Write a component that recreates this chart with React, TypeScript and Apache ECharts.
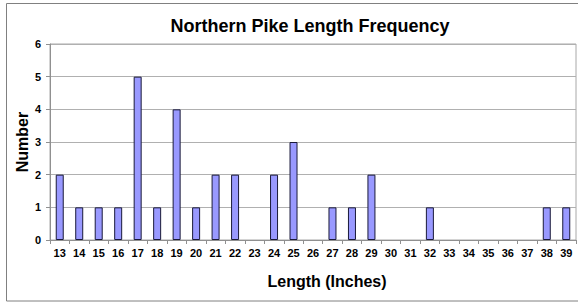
import React, { useEffect, useRef } from "react";
import * as echarts from "echarts";

const lengths = ["13","14","15","16","17","18","19","20","21","22","23","24","25","26","27","28","29","30","31","32","33","34","35","36","37","38","39"];
const counts = [2,1,1,1,5,1,4,1,2,2,0,2,3,0,1,1,2,0,0,1,0,0,0,0,0,1,1];
const titleText = "Northern Pike Length Frequency";
const xName = "Length (Inches)";
const yName = "Number";

export default function App() {
  const ref = useRef<HTMLDivElement>(null);
  useEffect(() => {
    const chart = echarts.init(ref.current!, null, { renderer: "svg" });
    const font = "'Liberation Sans', Arial, sans-serif";
    chart.setOption({
      animation: false,
      backgroundColor: "#ffffff",
      title: {
        text: titleText,
        left: 305,
        top: 12,
        textAlign: "center",
        textStyle: { fontFamily: font, fontSize: 18, fontWeight: "bold", color: "#000" },
      },
      graphic: [
        {
          type: "rect",
          shape: { x: 6.5, y: 3.5, width: 600, height: 297.5 },
          style: { fill: "none", stroke: "#808080", lineWidth: 1 },
          silent: true,
          z: -1,
        },
        {
          type: "text",
          x: 22,
          y: 142,
          rotation: Math.PI / 2,
          style: {
            text: yName,
            fontFamily: font,
            fontSize: 16,
            fontWeight: "bold",
            fill: "#000",
            align: "center",
            verticalAlign: "middle",
          },
        },
        {
          type: "text",
          x: 327,
          y: 281,
          style: {
            text: xName,
            fontFamily: font,
            fontSize: 16,
            fontWeight: "bold",
            fill: "#000",
            align: "center",
            verticalAlign: "middle",
          },
        },
      ],
      grid: {
        left: 50,
        right: 2,
        top: 44,
        bottom: 63,
        show: true,
        borderColor: "#a8a8a8",
        borderWidth: 1,
        containLabel: false,
      },
      xAxis: {
        type: "category",
        data: lengths,
        axisLine: { show: true, lineStyle: { color: "#909090" } },
        axisTick: { show: true, length: 4, alignWithLabel: false, lineStyle: { color: "#909090" } },
        axisLabel: {
          interval: 0,
          fontFamily: font,
          fontSize: 11,
          fontWeight: "bold",
          color: "#000",
          margin: 7,
        },
        splitLine: { show: false },
      },
      yAxis: {
        type: "value",
        min: 0,
        max: 6,
        interval: 1,
        axisLine: { show: true, lineStyle: { color: "#909090" } },
        axisTick: { show: true, length: 4, lineStyle: { color: "#909090" } },
        axisLabel: {
          fontFamily: font,
          fontSize: 11,
          fontWeight: "bold",
          color: "#000",
          margin: 9,
        },
        splitLine: { show: true, lineStyle: { color: "#b0b0b0" } },
      },
      series: [
        {
          type: "bar",
          data: counts.map((v) => (v === 0 ? "-" : v)),
          barWidth: 8,
          itemStyle: { color: "#9999ff", borderColor: "#1a1a3a", borderWidth: 1 },
        },
      ],
    });
    return () => chart.dispose();
  }, []);
  return (
    <div
      ref={ref}
      style={{ position: "fixed", left: 0, top: 0, width: 578, height: 303 }}
    />
  );
}
